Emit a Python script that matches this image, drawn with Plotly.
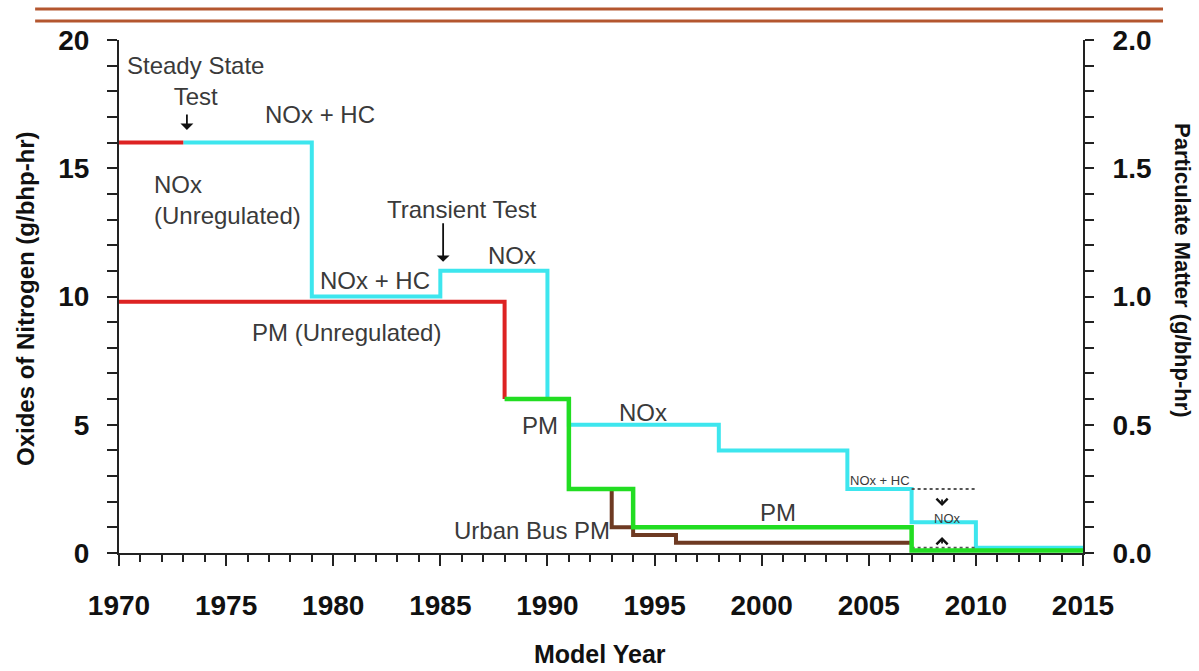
import plotly.graph_objects as go

# ---- data (model years, standards) ----
nox_unreg_x = [1970, 1973]
nox_unreg_y = [16, 16]

nox_std_x = [1973, 1979, 1985, 1990, 1991, 1998, 2004, 2007, 2010, 2015]
nox_std_y = [16, 10, 11, 6, 5, 4, 2.5, 1.2, 0.2, 0.2]

pm_unreg_x = [1970, 1988]
pm_unreg_y = [0.98, 0.6]

pm_std_x = [1988, 1991, 1994, 2007, 2015]
pm_std_y = [0.6, 0.25, 0.1, 0.01, 0.01]

bus_pm_x = [1993, 1993, 1994, 1996, 2007]
bus_pm_y = [0.25, 0.1, 0.07, 0.04, 0.04]

phase_in_x = [2007, 2010]
phase_in_hi = [2.5, 2.5]
phase_in_lo = [0.2, 0.2]

x_ticks = [1970, 1975, 1980, 1985, 1990, 1995, 2000, 2005, 2010, 2015]

RED = "#dd2222"
CYAN = "#3de6ee"
GREEN = "#22dd22"
BROWN = "#6e3a22"
TXT = "#3a3a3a"
FONT = "Liberation Sans, Arial, sans-serif"

fig = go.Figure()
fig.add_trace(go.Scatter(x=nox_std_x, y=nox_std_y, mode="lines", line=dict(color=CYAN, width=4, shape="hv"), showlegend=False))
fig.add_trace(go.Scatter(x=nox_unreg_x, y=nox_unreg_y, mode="lines", line=dict(color=RED, width=4, shape="hv"), showlegend=False))
fig.add_trace(go.Scatter(x=phase_in_x, y=phase_in_hi, mode="lines", line=dict(color="#555555", width=2, dash="dot"), showlegend=False))
fig.add_trace(go.Scatter(x=phase_in_x, y=phase_in_lo, mode="lines", line=dict(color="#555555", width=2, dash="dot"), showlegend=False))
fig.add_trace(go.Scatter(x=pm_unreg_x, y=pm_unreg_y, mode="lines", line=dict(color=RED, width=4, shape="hv"), yaxis="y2", showlegend=False))
fig.add_trace(go.Scatter(x=bus_pm_x, y=bus_pm_y, mode="lines", line=dict(color=BROWN, width=4, shape="hv"), yaxis="y2", showlegend=False))
fig.add_trace(go.Scatter(x=pm_std_x, y=pm_std_y, mode="lines", line=dict(color=GREEN, width=4.5, shape="hv"), yaxis="y2", showlegend=False))

tickfont = dict(family=FONT, size=28, color="#111111", weight="bold")

fig.update_layout(
    width=1199, height=671,
    margin=dict(l=119, r=116, t=40, b=118),
    paper_bgcolor="white", plot_bgcolor="white",
    xaxis=dict(range=[1970, 2015], tickvals=x_ticks, ticks="outside", ticklen=11, tickwidth=2,
               tickcolor="#222", showline=True, linecolor="#222", linewidth=2, showgrid=False, zeroline=False,
               tickfont=tickfont, ticklabelstandoff=15,
               minor=dict(dtick=1, ticks="outside", ticklen=7, tickwidth=2, tickcolor="#222", showgrid=False)),
    yaxis=dict(range=[0, 20], dtick=5, ticks="outside", ticklen=10, tickwidth=2, tickcolor="#222",
               showline=True, linecolor="#222", linewidth=2, showgrid=False, zeroline=False,
               tickfont=tickfont, ticklabelstandoff=12,
               minor=dict(dtick=1, ticks="outside", ticklen=10, tickwidth=2, tickcolor="#222", showgrid=False)),
    yaxis2=dict(range=[0, 2], dtick=0.5, tickformat=".1f", overlaying="y", side="right",
                ticks="outside", ticklen=9, tickwidth=2, tickcolor="#222",
                showline=True, linecolor="#222", linewidth=2, showgrid=False, zeroline=False,
                tickfont=tickfont, ticklabelstandoff=13,
                minor=dict(dtick=0.1, ticks="outside", ticklen=9, tickwidth=2, tickcolor="#222", showgrid=False)),
)

# axis titles
fig.add_annotation(xref="paper", yref="paper", x=-0.0975, y=0.4951, text="Oxides of Nitrogen (g/bhp-hr)",
                   textangle=-90, showarrow=False, xanchor="center", yanchor="middle",
                   font=dict(family=FONT, size=24, color="#111111", weight="bold"))
fig.add_annotation(xref="paper", yref="paper", x=1.1037, y=0.5497, text="Particulate Matter (g/bhp-hr)",
                   textangle=90, showarrow=False, xanchor="center", yanchor="middle",
                   font=dict(family=FONT, size=22, color="#111111", weight="bold"))
fig.add_annotation(xref="paper", yref="paper", x=0.499, y=-0.1969, text="Model Year",
                   showarrow=False, xanchor="center", yanchor="middle",
                   font=dict(family=FONT, size=25, color="#111111", weight="bold"))

# decorative double rule at top
for yp in (1.0604, 1.037):
    fig.add_shape(type="line", xref="paper", yref="paper", x0=-0.087, x1=1.083, y0=yp, y1=yp,
                  line=dict(color="#b4562f", width=3))

labels = [
    ("Steady State<br>Test", 1973.55, 18.4, 24, "center"),
    ("NOx + HC", 1979.4, 17.08, 24, "center"),
    ("NOx<br>(Unregulated)", 1971.54, 13.76, 24, "left"),
    ("Transient Test", 1986.0, 13.41, 24, "center"),
    ("NOx + HC", 1981.95, 10.64, 24, "center"),
    ("NOx", 1988.33, 11.58, 24, "center"),
    ("PM (Unregulated)", 1980.63, 8.58, 24, "center"),
    ("PM", 1989.65, 4.99, 24, "center"),
    ("NOx", 1994.46, 5.46, 24, "center"),
    ("PM", 2000.77, 1.56, 24, "center"),
    ("Urban Bus PM", 1989.3, 0.86, 24, "center"),
    ("NOx + HC", 2005.53, 2.81, 13, "center"),
    ("NOx", 2008.66, 1.36, 13, "center"),
]
for txt, x, y, sz, al in labels:
    fig.add_annotation(x=x, y=y, text=txt, showarrow=False, xanchor=al, yanchor="middle", align=al,
                       font=dict(family=FONT, size=sz, color=TXT))

arrows = [
    (1973.17, 16.49, -17, 1.2, 1),
    (1985.13, 11.35, -40, 1.2, 1),
    (2008.42, 1.83, -8, 1.2, 4),
    (2008.42, 0.62, 8, 1.2, 4),
]
for x, y, ay, sz, hd in arrows:
    fig.add_annotation(x=x, y=y, ax=0, ay=ay, text="", showarrow=True, arrowhead=hd, arrowsize=sz,
                       arrowwidth=1.8, arrowcolor="#111111")

fig.write_html("out.html", config={"displayModeBar": False},
               post_script="document.body.style.margin='0';document.body.style.overflow='hidden';")
